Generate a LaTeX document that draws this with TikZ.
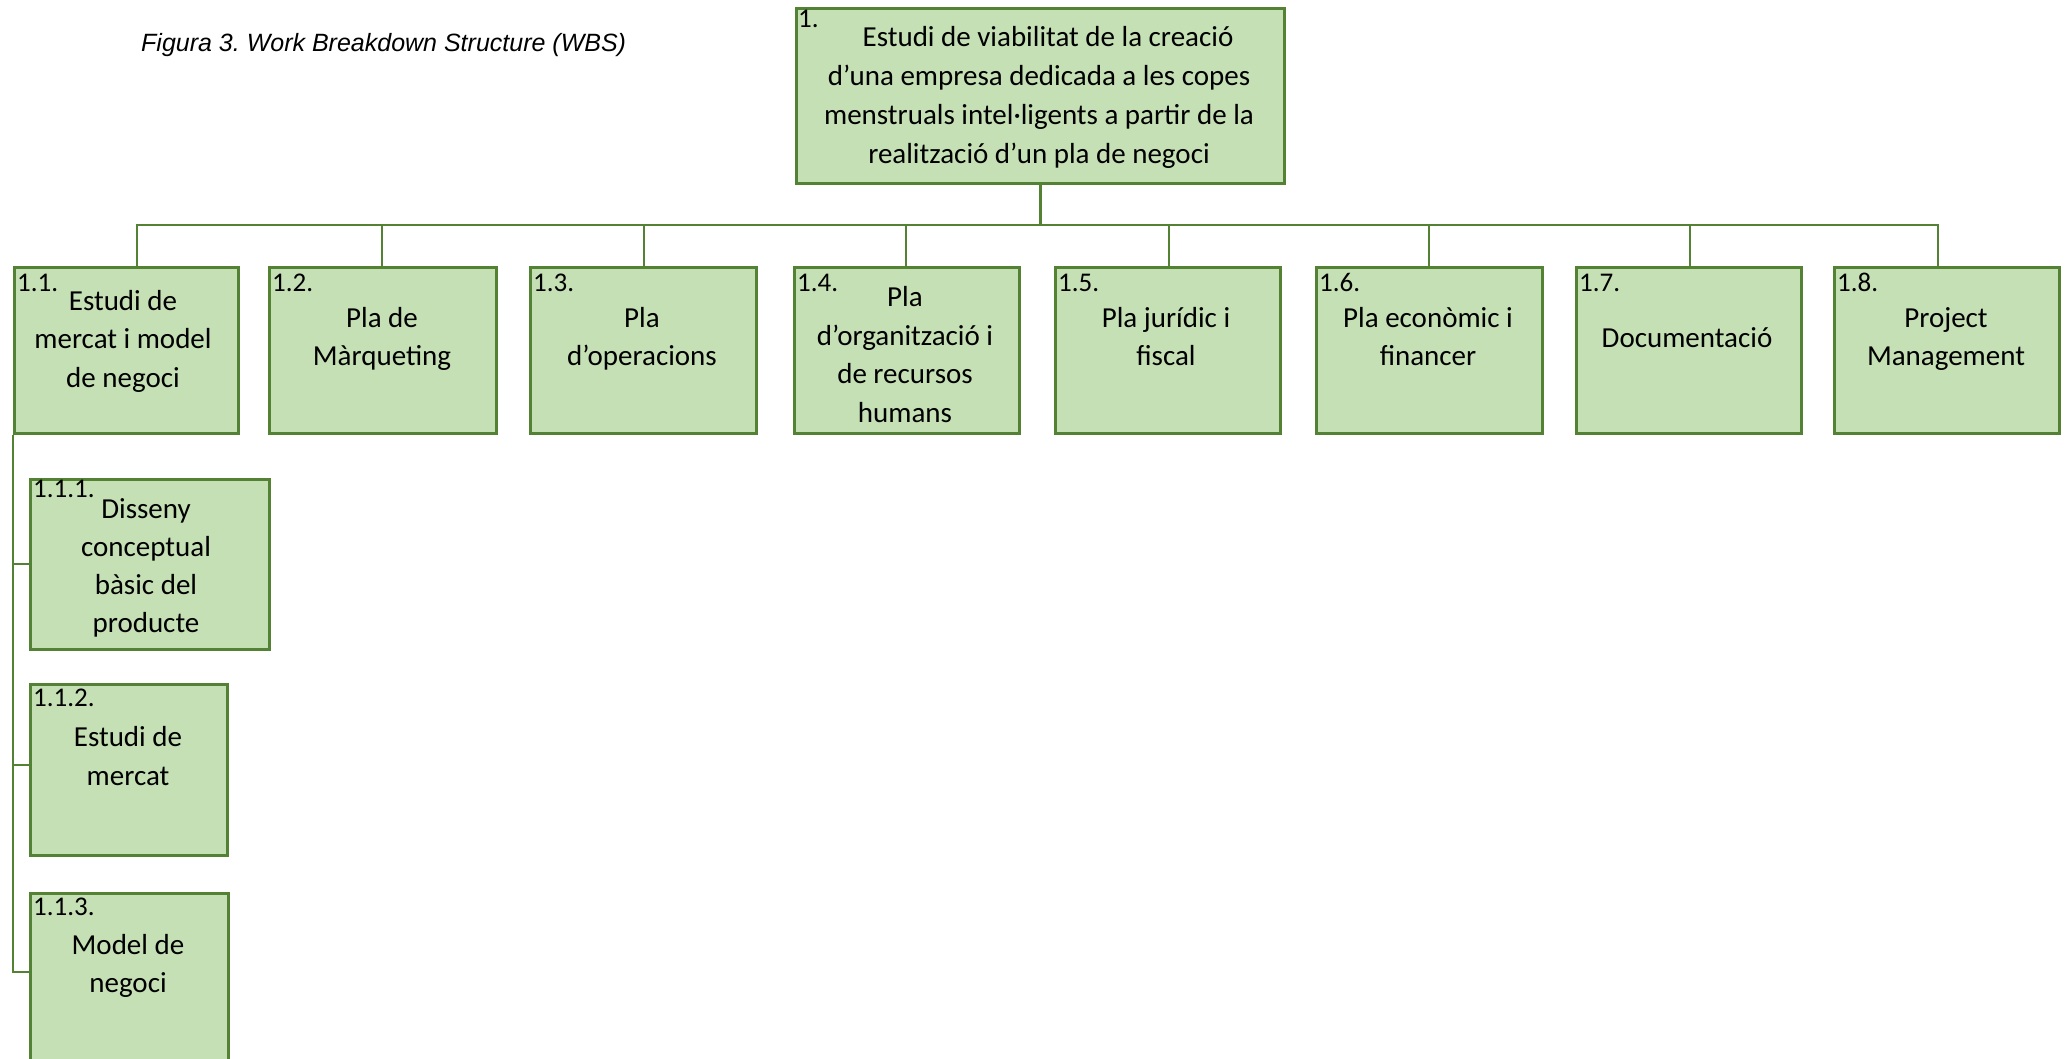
\documentclass[tikz,border=0pt]{standalone}
\usepackage{fontspec}
\setmainfont{Carlito}
\newfontfamily\capfont{Liberation Sans}
\definecolor{wbsline}{HTML}{548235}
\definecolor{wbsfill}{HTML}{C5E0B4}
\tikzset{
  wbsbox/.style={draw=wbsline, fill=wbsfill, line width=3pt, inner sep=0pt, anchor=north west},
  conn/.style={draw=wbsline, line width=2.5pt},
  num/.style={anchor=base west, inner sep=0pt, font=\fontsize{27}{32}\selectfont},
  txt/.style={anchor=base, align=center, inner sep=0pt, font=\fontsize{29}{38.5}\selectfont},
}
\begin{document}
\frenchspacing
\begin{tikzpicture}[x=1pt,y=-1pt]
\useasboundingbox[fill=white] (0,0) rectangle (2067,1059);

% caption
\node[anchor=base west, inner sep=0pt, font=\capfont\itshape\fontsize{25}{30}\selectfont] (cap) at (141,52) {Figura 3. Work Breakdown Structure (WBS)};

% top box
\node[wbsbox, minimum width=488pt, minimum height=175pt] (b1) at (795,7) {};
\node[num] (n1) at (798,28) {1.};
% anchor base = baseline of last line
\node[anchor=base, align=center, inner sep=0pt, font=\fontsize{29}{39}\selectfont] (t1) at (1039,164)
  {\hspace*{18pt}Estudi de viabilitat de la creació\\d’una empresa dedicada a les copes\\menstruals intel·ligents a partir de la\\realització d’un pla de negoci};

% level 2 boxes
\node[wbsbox, minimum width=224pt, minimum height=166pt] (b11) at (13,266) {};
\node[wbsbox, minimum width=227pt, minimum height=166pt] (b12) at (268,266) {};
\node[wbsbox, minimum width=226pt, minimum height=166pt] (b13) at (529,266) {};
\node[wbsbox, minimum width=225pt, minimum height=166pt] (b14) at (793,266) {};
\node[wbsbox, minimum width=225pt, minimum height=166pt] (b15) at (1054,266) {};
\node[wbsbox, minimum width=226pt, minimum height=166pt] (b16) at (1315,266) {};
\node[wbsbox, minimum width=225pt, minimum height=166pt] (b17) at (1575,266) {};
\node[wbsbox, minimum width=225pt, minimum height=166pt] (b18) at (1833,266) {};

% level 3 boxes
\node[wbsbox, minimum width=239pt, minimum height=170pt] (b111) at (29,478) {};
\node[wbsbox, minimum width=197pt, minimum height=171pt] (b112) at (29,683) {};
\node[wbsbox, minimum width=198pt, minimum height=200pt] (b113) at (29,892) {};

% attachment points
\coordinate (j11) at (137,266);
\coordinate (j12) at (382,266);
\coordinate (j13) at (644,266);
\coordinate (j14) at (906,266);
\coordinate (j15) at (1169,266);
\coordinate (j16) at (1429,266);
\coordinate (j17) at (1690,266);
\coordinate (j18) at (1938,266);
\coordinate (bus) at (1039,225);
\coordinate (k111) at (29,564);
\coordinate (k112) at (29,765);
\coordinate (k113) at (29,972);

% connectors
\draw[conn] (b1.south) -- (b1.south |- bus);
\foreach \j in {j11,j12,j13,j14,j15,j16,j17,j18}{
  \draw[conn] (b1.south |- bus) -| (\j);
}
\draw[conn] (b11.south west) |- (k111);
\draw[conn] (b11.south west) |- (k112);
\draw[conn] (b11.south west) |- (k113);

% labels
\node[num] (n11) at (17,292) {1.1.};
\node[num] (n12) at (272,292) {1.2.};
\node[num] (n13) at (533,292) {1.3.};
\node[num] (n14) at (797,292) {1.4.};
\node[num] (n15) at (1058,292) {1.5.};
\node[num] (n16) at (1319,292) {1.6.};
\node[num] (n17) at (1579,292) {1.7.};
\node[num] (n18) at (1837,292) {1.8.};
\node[num] (n111) at (33,497) {1.1.1.};
\node[num] (n112) at (33,706) {1.1.2.};
\node[num] (n113) at (33,915) {1.1.3.};

% texts (anchor base = baseline of the last line)
\node[txt] (t11) at (123,387) {Estudi de\\mercat i model\\de negoci};
\node[txt] (t12) at (382,365.5) {Pla de\\Màrqueting};
\node[txt] (t13) at (642,365.5) {Pla\\d’operacions};
\node[txt] (t14) at (905,422) {Pla\\d’organització i\\de recursos\\humans};
\node[txt] (t15) at (1166,365.5) {Pla jurídic i\\fiscal};
\node[txt] (t16) at (1428,365.5) {Pla econòmic i\\financer};
\node[txt] (t17) at (1687,347) {Documentació};
\node[txt] (t18) at (1946,365.5) {Project\\Management};
\node[txt, font=\fontsize{29}{38}\selectfont] (t111) at (146,632) {Disseny\\conceptual\\bàsic del\\producte};
\node[txt] (t112) at (128,785) {Estudi de\\mercat};
\node[txt] (t113) at (128,992.5) {Model de\\negoci};
\end{tikzpicture}
\end{document}
